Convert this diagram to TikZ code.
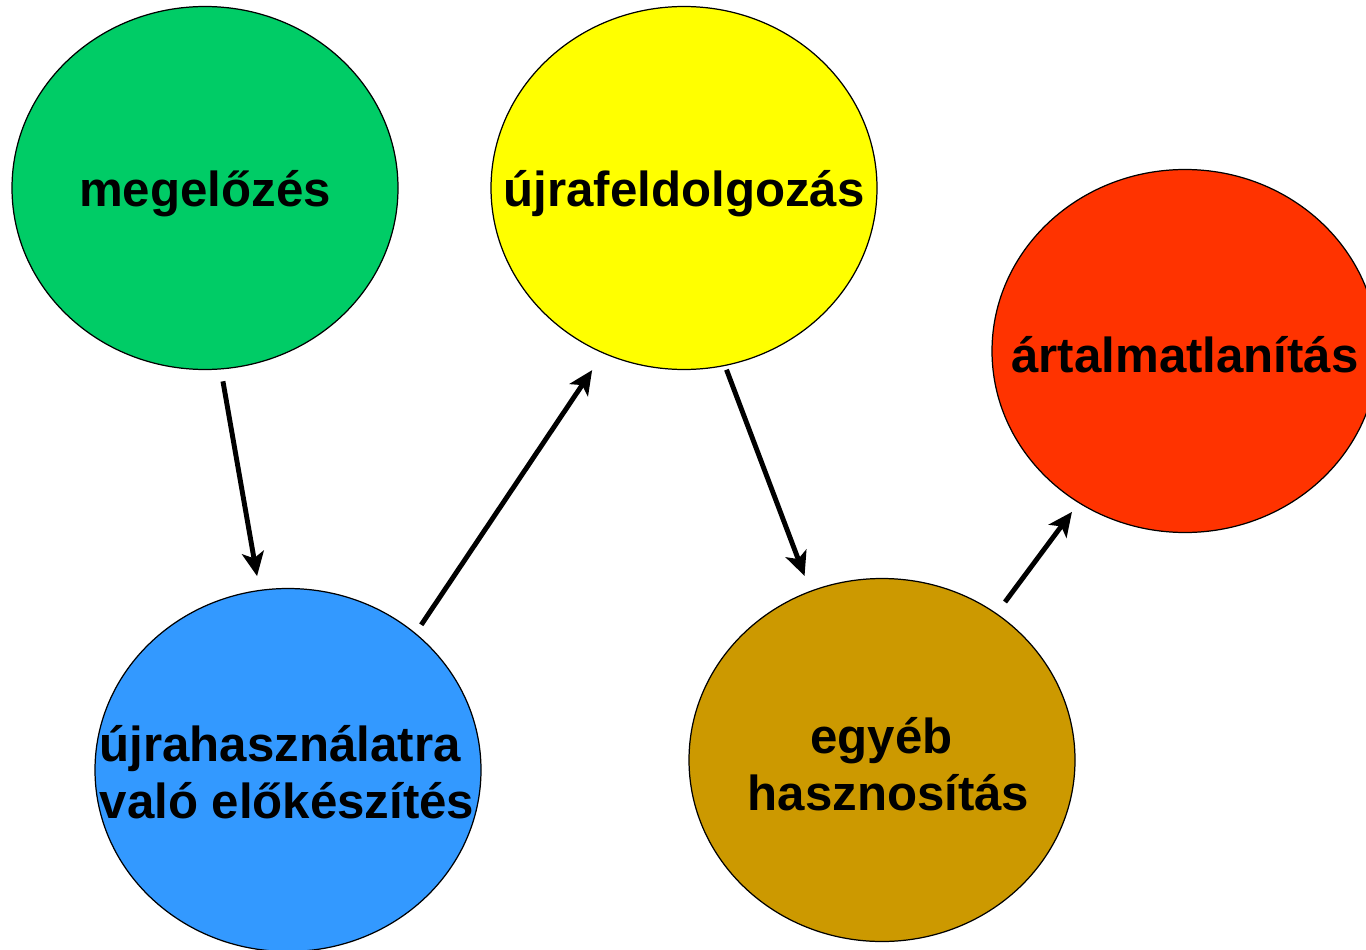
\documentclass[tikz,border=0pt]{standalone}
\usepackage{fontspec}
\setmainfont{Liberation Sans}
\usetikzlibrary{shapes.geometric,arrows.meta}
\definecolor{zold}{RGB}{0,204,102}
\definecolor{sarga}{RGB}{255,255,0}
\definecolor{piros}{RGB}{255,51,0}
\definecolor{kek}{RGB}{51,153,255}
\definecolor{okker}{RGB}{204,153,0}
\begin{document}
\begin{tikzpicture}[
	kor/.style={ellipse, draw=black, line width=0.35pt, minimum width=3.86cm, minimum height=3.63cm, inner sep=0pt},
	felirat/.style={align=center, inner sep=0pt, font=\fontsize{14}{16.2}\selectfont\bfseries},
	nyil/.style={-{Stealth[length=2.4mm,width=2.2mm,inset=0.6mm]}, line width=1.4pt}
	]
	\useasboundingbox (0,0) rectangle (13.66,9.49);
	\clip (0,0) rectangle (13.66,9.49);
	
	%One circle
	\node[kor, fill=zold, label={[felirat, yshift=-0.06cm]center:megelőzés}] (M) at (2.05,7.61) {};
	
	%One circle
	\node[kor, fill=sarga, label={[felirat, yshift=-0.06cm]center:újrafeldolgozás}] (U) at (6.84,7.61) {};
	
	%One circle
	\node[kor, fill=piros, label={[felirat, yshift=-0.04cm]center:ártalmatlanítás}] (A) at (11.85,5.98) {};
	
	%One circle
	\node[kor, fill=kek, label={[felirat, align=left, xshift=-0.01cm, yshift=-0.02cm]center:újrahasználatra\\való előkészítés}] (E) at (2.88,1.79) {};
	
	%One circle
	\node[kor, fill=okker, label={[felirat, xshift=0.065cm, yshift=-0.04cm]center:egyéb\hspace*{0.14cm}\\hasznosítás}] (H) at (8.82,1.89) {};
	
	%Arrows
	\draw[nyil, shorten <=0.12cm, shorten >=0.14cm] (M.-85) -- (E.99);
	\draw[nyil, shorten <=0.10cm, shorten >=0.20cm] (E.47) -- (U.244);
	\draw[nyil, shorten <=0.04cm, shorten >=0.16cm] (U.-77) -- (H.113);
	\draw[nyil, shorten <=0.14cm, shorten >=0.11cm] (H.52) -- (A.235);
\end{tikzpicture}
\end{document}
